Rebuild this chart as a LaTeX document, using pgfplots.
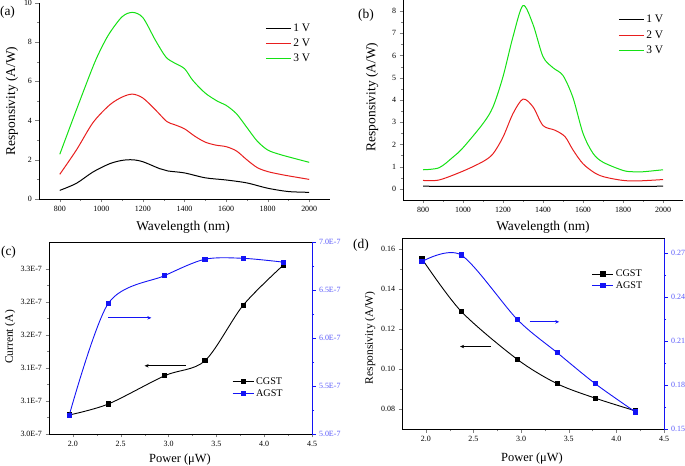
\documentclass[border=0pt]{standalone}
\usepackage{fontspec}
\setmainfont{Liberation Serif}
\usepackage{pgfplots}
\pgfplotsset{compat=1.18}
\usetikzlibrary{arrows.meta}
\definecolor{cgreen}{RGB}{20,225,20}
\definecolor{cred}{RGB}{232,30,30}
\definecolor{cblue}{RGB}{20,20,245}
\definecolor{cbluet}{RGB}{90,90,250}
\pgfplotsset{
  every axis/.append style={
    scale only axis,
    /pgf/number format/assume math mode=true,
    /pgf/number format/1000 sep={},
    scaled ticks=false,
    tick align=outside,
    major tick length=3.5bp,
    minor tick length=2bp,
    tick label style={font=\fontsize{8}{9}\selectfont},
    legend cell align=left,
  },
  toplbl/.style={label style={font=\fontsize{13.5}{15}\selectfont}},
  botlbl/.style={xlabel style={font=\fontsize{12.5}{14}\selectfont},
                 ylabel style={font=\fontsize{11.5}{13}\selectfont}},
  limg/.style={legend image code/.code={\draw[##1] (0bp,0bp) -- (25bp,0bp);}},
  limgm/.style={legend image code/.code={\draw[mark repeat=2,mark phase=2,##1] plot coordinates {(0bp,0bp) (10.5bp,0bp) (21bp,0bp)};}},
}
\begin{document}
\begin{tikzpicture}[x=1bp,y=1bp]
\useasboundingbox (0,0) rectangle (685,466);

% ---------------- (a)
\begin{axis}[at={(39bp,267bp)}, anchor=south west, width=291bp, height=196bp,
  toplbl,
  xmin=700, xmax=2100, ymin=0, ymax=10,
  axis x line*=bottom, axis y line*=left, axis line style={-},
  xtick={800,1000,...,2000}, ytick={0,2,...,10},
  minor x tick num=1, minor y tick num=1,
  xlabel={Wavelength (nm)}, ylabel={Responsivity (A/W)},
  xlabel style={at={(axis description cs:0.495,-0.143)}, anchor=center},
  ylabel style={at={(axis description cs:-0.093,0.5)}, anchor=center},
  limg,
  legend style={at={(axis description cs:0.777,0.905)}, anchor=north west, draw=none, fill=none,
    inner sep=0pt, row sep=2bp, font=\fontsize{11.5}{13}\selectfont},
]
\addplot[black, line width=1bp, smooth] coordinates {
(800,0.44) (880,0.8) (960,1.38) (1040,1.8) (1100,1.97) (1150,2.0) (1200,1.9) (1280,1.55)
(1320,1.43) (1400,1.33) (1500,1.08) (1600,0.97) (1700,0.82) (1800,0.55) (1900,0.38) (2000,0.34)};
\addlegendentry{1 V}
\addplot[cred, line width=1bp, smooth] coordinates {
(800,1.26) (880,2.5) (960,3.9) (1040,4.8) (1100,5.2) (1150,5.35) (1200,5.15) (1260,4.55)
(1315,3.95) (1350,3.8) (1400,3.58) (1450,3.2) (1500,2.9) (1550,2.75) (1600,2.67) (1650,2.45)
(1700,2.0) (1750,1.6) (1800,1.4) (1850,1.28) (1900,1.18) (2000,1.0)};
\addlegendentry{2 V}
\addplot[cgreen, line width=1bp, smooth] coordinates {
(800,2.28) (880,4.55) (960,6.76) (1000,7.7) (1040,8.47) (1100,9.3) (1150,9.52) (1200,9.25)
(1260,8.1) (1310,7.25) (1350,6.95) (1400,6.65) (1440,6.05) (1500,5.4) (1560,4.98) (1600,4.78)
(1650,4.35) (1700,3.65) (1750,2.95) (1800,2.5) (1850,2.3) (1900,2.15) (2000,1.87)};
\addlegendentry{3 V}
\end{axis}

% ---------------- (b)
\begin{axis}[at={(403bp,266bp)}, anchor=south west, width=280bp, height=200bp,
  toplbl,
  xmin=700, xmax=2100, ymin=-0.5, ymax=8.5,
  axis x line*=bottom, axis y line*=left, axis line style={-},
  xtick={800,1000,...,2000}, ytick={0,1,...,8},
  minor x tick num=1, minor y tick num=1,
  xlabel={Wavelength (nm)}, ylabel={Responsivity (A/W)},
  xlabel style={at={(axis description cs:0.5,-0.135)}, anchor=center},
  ylabel style={at={(axis description cs:-0.11,0.515)}, anchor=center},
  limg,
  legend style={at={(axis description cs:0.768,0.935)}, anchor=north west, draw=none, fill=none,
    inner sep=0pt, row sep=2.5bp, font=\fontsize{11.5}{13}\selectfont},
]
\addplot[black, line width=1bp, smooth] coordinates {
(800,0.12) (1000,0.11) (1200,0.11) (1400,0.11) (1600,0.11) (1800,0.11) (2000,0.12)};
\addlegendentry{1 V}
\addplot[cred, line width=1bp, smooth] coordinates {
(800,0.38) (880,0.4) (1000,0.8) (1100,1.23) (1150,1.58) (1200,2.33) (1250,3.39) (1300,4.04)
(1350,3.69) (1400,2.85) (1460,2.64) (1510,2.35) (1550,1.75) (1600,1.13) (1660,0.71) (1710,0.53)
(1800,0.38) (1880,0.36) (2000,0.42)};
\addlegendentry{2 V}
\addplot[cgreen, line width=1bp, smooth] coordinates {
(800,0.86) (880,0.95) (950,1.43) (1000,1.85) (1100,2.94) (1150,3.69) (1200,5.05) (1250,6.85)
(1300,8.25) (1350,7.4) (1400,5.95) (1450,5.45) (1500,5.1) (1550,4.1) (1600,2.5) (1650,1.6)
(1700,1.2) (1800,0.83) (1850,0.77) (1900,0.77) (2000,0.86)};
\addlegendentry{3 V}
\end{axis}

% ---------------- (c) left axis
\begin{axis}[at={(49bp,32bp)}, anchor=south west, width=263bp, height=192bp,
  botlbl,
  xmin=1.75, xmax=4.5, ymin=3.0, ymax=3.349,
  xtick pos=left, ytick pos=left,
  xtick={2.0,2.5,3.0,3.5,4.0,4.5}, ytick={3.00,3.06,3.12,3.18,3.24,3.30},
  minor x tick num=1, minor y tick num=1,
  xticklabel style={/pgf/number format/.cd, fixed, fixed zerofill, precision=1},
  yticklabel={\pgfmathprintnumber[fixed,fixed zerofill,precision=1]{\tick}E-7},
  xlabel={Power (μW)}, ylabel={Current (A)},
  xlabel style={at={(axis description cs:0.498,-0.135)}, anchor=center},
  ylabel style={at={(axis description cs:-0.148,0.505)}, anchor=center},
]
\addplot[black, line width=0.9bp, smooth, mark=square*, mark size=2.1bp] coordinates {
(1.96,3.0345) (2.37,3.0545) (2.96,3.106) (3.38,3.133) (3.78,3.234) (4.20,3.307)};
\draw[black, line width=0.9bp, -{Stealth[length=4bp,width=3.5bp]}] (axis cs:3.18,3.124) -- (axis cs:2.75,3.124);
\end{axis}
% ---------------- (c) right axis
\begin{axis}[at={(49bp,32bp)}, anchor=south west, width=263bp, height=192bp,
  xmin=1.75, xmax=4.5, ymin=5.0, ymax=7.0,
  axis x line=none, axis y line*=right, axis line style={-},
  y axis line style={cblue}, ytick style={cblue},
  ytick={5.0,5.5,...,7.0}, minor y tick num=1,
  yticklabel={\pgfmathprintnumber[fixed,fixed zerofill,precision=1]{\tick}E-7},
  yticklabel style={text=cbluet},
  limgm,
  legend style={at={(axis description cs:0.696,0.305)}, anchor=north west, draw=none, fill=none,
    inner sep=0pt, row sep=-0.5bp, font=\fontsize{10.2}{12}\selectfont},
]
\addlegendimage{black, line width=0.9bp, mark=square*, mark size=2.1bp}
\addlegendentry{CGST}
\addplot[cblue, line width=0.9bp, smooth, mark=square*, mark size=2.1bp] coordinates {
(1.96,5.19) (2.37,6.36) (2.96,6.65) (3.38,6.82) (3.78,6.83) (4.20,6.79)};
\addlegendentry{AGST}
\draw[cblue, line width=0.9bp, -{Stealth[length=4bp,width=3.5bp]}] (axis cs:2.37,6.21) -- (axis cs:2.82,6.21);
\end{axis}

% ---------------- (d) left axis
\begin{axis}[at={(402bp,36.7bp)}, anchor=south west, width=262bp, height=190.6bp,
  botlbl,
  xmin=1.75, xmax=4.5, ymin=0.07, ymax=0.1651,
  xtick pos=left, ytick pos=left,
  xtick={2.0,2.5,3.0,3.5,4.0,4.5}, ytick={0.08,0.10,0.12,0.14,0.16},
  minor x tick num=1, minor y tick num=1,
  xticklabel style={/pgf/number format/.cd, fixed, fixed zerofill, precision=1},
  yticklabel style={/pgf/number format/.cd, fixed, fixed zerofill, precision=2},
  xlabel={Power (μW)}, ylabel={Responsivity (A/W)},
  xlabel style={at={(axis description cs:0.496,-0.151)}, anchor=center},
  ylabel style={at={(axis description cs:-0.122,0.48)}, anchor=center},
]
\addplot[black, line width=0.9bp, smooth, mark=square*, mark size=2.1bp] coordinates {
(1.96,0.155) (2.37,0.1289) (2.96,0.1049) (3.38,0.0927) (3.78,0.0855) (4.20,0.0792)};
\draw[black, line width=0.9bp, -{Stealth[length=4bp,width=3.5bp]}] (axis cs:2.68,0.1113) -- (axis cs:2.36,0.1113);
\end{axis}
% ---------------- (d) right axis
\begin{axis}[at={(402bp,36.7bp)}, anchor=south west, width=262bp, height=190.6bp,
  xmin=1.75, xmax=4.5, ymin=0.15, ymax=0.28,
  axis x line=none, axis y line*=right, axis line style={-},
  y axis line style={cblue}, ytick style={cblue},
  ytick={0.15,0.18,0.21,0.24,0.27}, minor y tick num=1,
  yticklabel style={text=cbluet, /pgf/number format/.cd, fixed, fixed zerofill, precision=2},
  limgm,
  legend style={at={(axis description cs:0.724,0.848)}, anchor=north west, draw=none, fill=none,
    inner sep=0pt, row sep=-0.5bp, font=\fontsize{10.2}{12}\selectfont},
]
\addlegendimage{black, line width=0.9bp, mark=square*, mark size=2.1bp}
\addlegendentry{CGST}
\addplot[cblue, line width=0.9bp, smooth, mark=square*, mark size=2.1bp] coordinates {
(1.96,0.2644) (2.37,0.2689) (2.96,0.2249) (3.38,0.2022) (3.78,0.181) (4.20,0.1618)};
\addlegendentry{AGST}
\draw[cblue, line width=0.9bp, -{Stealth[length=4bp,width=3.5bp]}] (axis cs:3.09,0.2233) -- (axis cs:3.40,0.2233);
\end{axis}

% panel labels
\node[font=\fontsize{13.5}{15}\selectfont] at (7.5,454) {(a)};
\node[font=\fontsize{13.5}{15}\selectfont] at (366,451) {(b)};
\node[font=\fontsize{13.5}{15}\selectfont] at (8.5,214) {(c)};
\node[font=\fontsize{13.5}{15}\selectfont] at (361,221) {(d)};
\end{tikzpicture}
\end{document}
